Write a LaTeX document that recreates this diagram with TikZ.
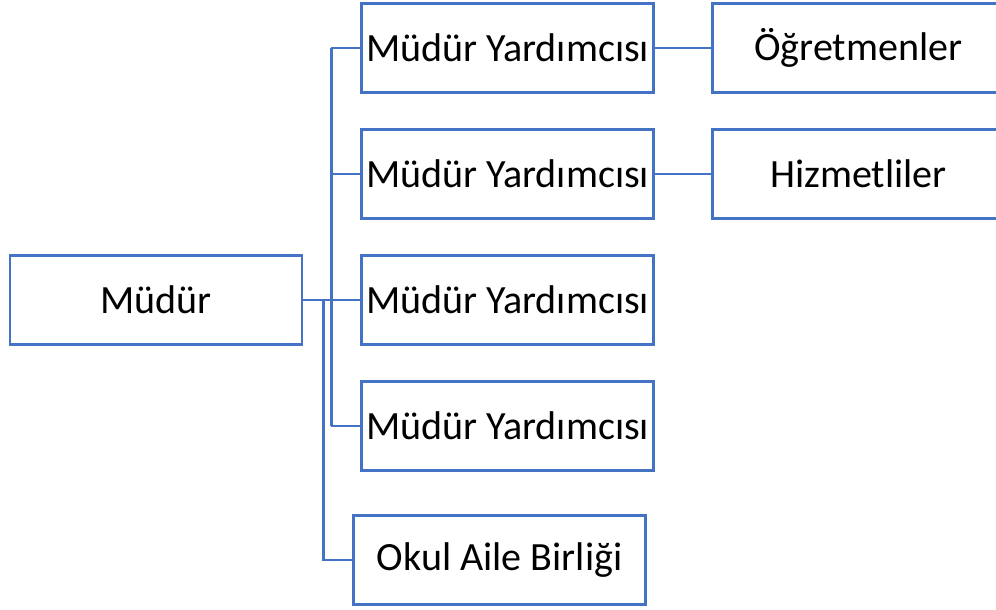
\documentclass[tikz,border=0pt]{standalone}
\usepackage{fontspec}
\setmainfont{Carlito}
\usepackage{xcolor}
\usetikzlibrary{positioning,calc}
\definecolor{orgblue}{HTML}{4472C4}

\begin{document}
\begin{tikzpicture}[
  unit/.style={draw=orgblue, line width=2pt, fill=white,
    minimum width=7.3cm, minimum height=2.22cm, align=center,
    font=\fontsize{28.5}{32}\selectfont},
  link/.style={draw=orgblue, line width=2pt}
]
  \useasboundingbox (0,0) rectangle (24.9,15.25);

  % head
  \node[unit] (mudur) at (3.9,7.75) {Müdür};

  % deputies
  \node[unit] (yard1) at (12.69,14.05) {Müdür Yardımcısı};
  \node[unit] (yard2) at (12.69,10.9)  {Müdür Yardımcısı};
  \node[unit] (yard3) at (12.69,7.75)  {Müdür Yardımcısı};
  \node[unit] (yard4) at (12.69,4.6)   {Müdür Yardımcısı};
  \node[unit] (aile)  at (12.49,1.25)  {Okul Aile Birliği};

  % staff
  \node[unit] (ogret) at (21.46,14.05) {Öğretmenler};
  \node[unit] (hizm)  at (21.46,10.9)  {Hizmetliler};

  % buses
  \coordinate (bus)  at (8.28,7.75);
  \coordinate (bus2) at (8.08,7.75);

  % edges
  \draw[link] (mudur.east) -- (bus);
  \draw[link] (bus |- yard1.west) -- (bus |- yard4.west);
  \foreach \n in {yard1,yard2,yard3,yard4}
    \draw[link] (bus |- \n.west) -- (\n.west);
  \draw[link] (bus2) |- (aile.west);
  \draw[link] (yard1.east) -- (ogret.west);
  \draw[link] (yard2.east) -- (hizm.west);
\end{tikzpicture}
\end{document}
